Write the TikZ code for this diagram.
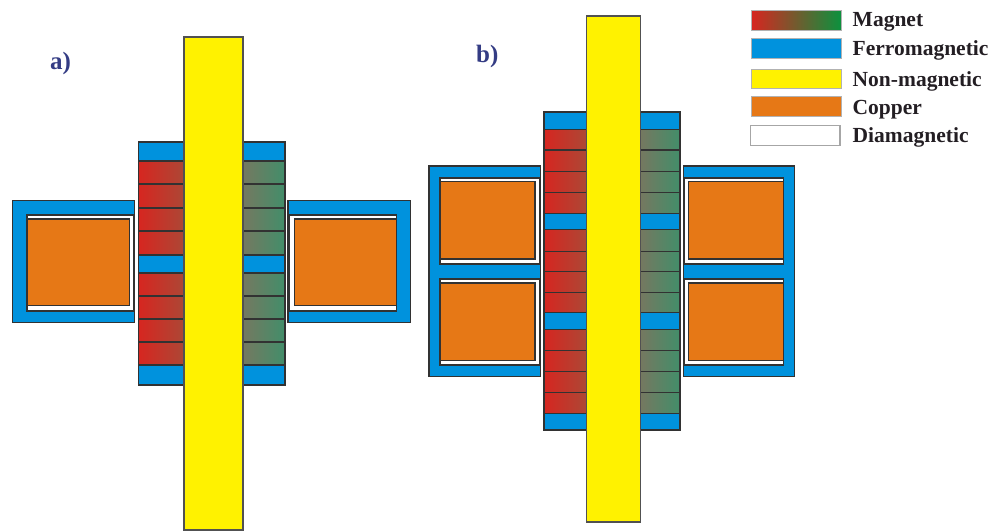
\documentclass[tikz,border=0pt]{standalone}
\usepackage{fontspec}
\setmainfont{Liberation Serif}
\definecolor{ferro}{RGB}{0,146,221}
\definecolor{nonmag}{RGB}{255,242,0}
\definecolor{copper}{RGB}{230,120,22}
\definecolor{edge}{RGB}{50,50,50}
\definecolor{magred}{RGB}{214,38,32}
\definecolor{magmidl}{RGB}{172,72,54}
\definecolor{magmidr}{RGB}{118,120,96}
\definecolor{maggreen}{RGB}{66,142,106}
\definecolor{leggreen}{RGB}{10,146,62}
\definecolor{labelblue}{RGB}{52,60,132}
\definecolor{legtext}{RGB}{35,30,35}
\tikzset{
  part/.style={draw=edge,line width=1.4pt},
  ferropart/.style={part,fill=ferro},
  shaftpart/.style={draw=edge!85,line width=1.1pt,fill=nonmag},
  copperpart/.style={part,fill=copper},
  diapart/.style={part,fill=white},
  magleft/.style={part,left color=magred,right color=magmidl},
  magright/.style={part,left color=magmidr,right color=maggreen},
  legswatch/.style={draw=black!30,line width=1pt},
  legtextstyle/.style={anchor=base west,inner sep=0pt,text=legtext,font=\fontsize{21.5}{23}\selectfont\bfseries},
  panellabel/.style={anchor=base west,inner sep=0pt,text=labelblue,font=\fontsize{25}{27}\selectfont\bfseries}
}
\begin{document}
\begin{tikzpicture}[x=1pt,y=-1pt]
\useasboundingbox (0,0) rectangle (990,531);
% ---- panel a stacks
\foreach \ya/\yb in {142/161,255/273,365/385}{
  \path[ferropart] (138.5,\ya) rectangle (185,\yb);
  \path[ferropart] (242,\ya) rectangle (285,\yb);
}
\foreach \ya/\yb in {161/184,184/208,208/231,231/255,273/296,296/319,319/342,342/365}{
  \path[magleft] (138.5,\ya) rectangle (185,\yb);
  \path[magright] (242,\ya) rectangle (285,\yb);
}
\path[ferropart] (12.5,200.7) rectangle (134.5,322.3);
\path[diapart] (27,215) rectangle (134,311);
\path[copperpart] (27,219) rectangle (129.5,305.3);
\path[ferropart] (287.8,200.7) rectangle (410.2,322.3);
\path[diapart] (289.3,215) rectangle (396.7,311);
\path[copperpart] (294.3,219) rectangle (396.7,305.3);
\path[shaftpart] (184,37) rectangle (243,530);
% ---- panel b stacks
\foreach \ya/\yb in {112/129.3,213.7/229.7,312.7/329.7,413.3/430}{
  \path[ferropart] (543.8,\ya) rectangle (587,\yb);
  \path[ferropart] (640,\ya) rectangle (680,\yb);
}
\foreach \ya/\yb in {129.3/150,150/171.3,171.3/192.3,192.3/213.7,229.7/251.3,251.3/271.7,271.7/292.7,292.7/312.7,329.7/350.3,350.3/371.3,371.3/392.3,392.3/413.3}{
  \path[magleft] (543.8,\ya) rectangle (587,\yb);
  \path[magright] (640,\ya) rectangle (680,\yb);
}
\path[ferropart] (429,166) rectangle (540.7,376.7);
\path[diapart] (440,178) rectangle (539.3,264);
\path[copperpart] (440,181.7) rectangle (535,259);
\path[diapart] (440,279) rectangle (539.3,365);
\path[copperpart] (440,283) rectangle (535,360.3);
\path[ferropart] (683.3,166) rectangle (794.7,376.7);
\path[diapart] (684.3,178) rectangle (783.7,264);
\path[copperpart] (688.3,181.7) rectangle (783.7,259);
\path[diapart] (684.3,279) rectangle (783.7,365);
\path[copperpart] (688.3,283) rectangle (783.7,360.3);
\path[shaftpart] (586.5,16) rectangle (640.8,522);
% ---- labels
\node[panellabel] (labela) at (50,69.5) {a)};
\node[panellabel] (labelb) at (476,62) {b)};
% ---- legend
\path[legswatch,left color=magred,right color=leggreen] (751.7,10) rectangle (841.7,30);
\path[legswatch,fill=ferro] (751.7,38.3) rectangle (841.7,58.3);
\path[legswatch,fill=nonmag] (751.7,69) rectangle (841.7,88.3);
\path[legswatch,fill=copper] (751.7,96.7) rectangle (841.7,116.7);
\path[draw=black!35,line width=1.5pt,fill=white] (750.5,125.5) rectangle (840,145.3);
\node[legtextstyle] (t1) at (852.5,26.7) {Magnet};
\node[legtextstyle] (t2) at (852.5,55.7) {Ferromagnetic};
\node[legtextstyle] (t3) at (852.5,86) {Non-magnetic};
\node[legtextstyle] (t4) at (852.5,114) {Copper};
\node[legtextstyle] (t5) at (852.5,142) {Diamagnetic};
\end{tikzpicture}
\end{document}
